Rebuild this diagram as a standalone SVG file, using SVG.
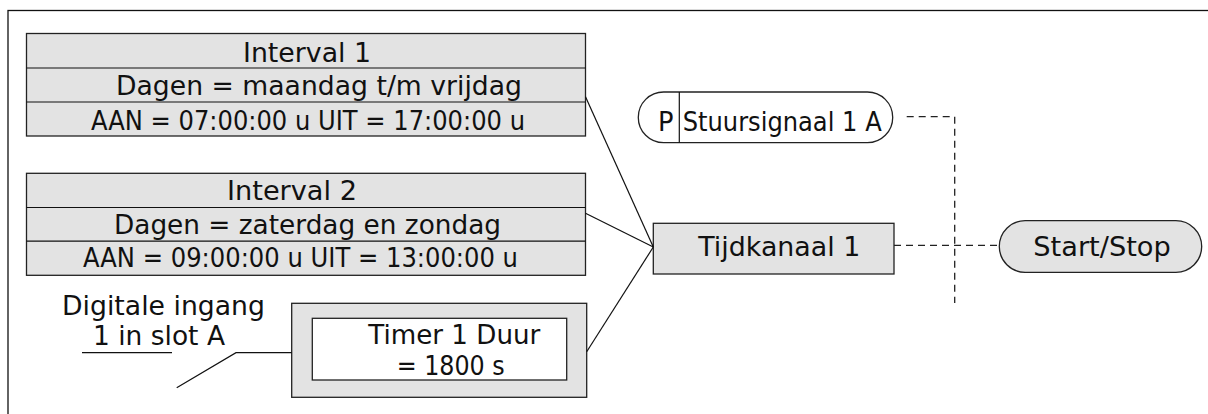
<svg xmlns="http://www.w3.org/2000/svg" width="1208" height="414" viewBox="0 0 1208 414">
<style>
text{font-family:"DejaVu Sans","Verdana",sans-serif;font-size:26px;fill:#111}
.box{fill:#e3e3e3;stroke:#222;stroke-width:1.3}
.white{fill:#fff;stroke:#222;stroke-width:1.3}
.ln{fill:none;stroke:#111;stroke-width:1.2}
.dash{fill:none;stroke:#222;stroke-width:1.3;stroke-dasharray:7 5}
</style>
<rect x="8" y="10.5" width="1230" height="420" fill="none" stroke="#111" stroke-width="1.3"/>
<g id="interval1">
<rect class="box" x="26.5" y="33.5" width="559" height="102.5"/>
<line class="ln" x1="26.5" y1="68" x2="585.5" y2="68"/>
<line class="ln" x1="26.5" y1="102" x2="585.5" y2="102"/>
<text x="243" y="62" textLength="128" lengthAdjust="spacingAndGlyphs">Interval 1</text>
<text x="116" y="95" textLength="406" lengthAdjust="spacingAndGlyphs">Dagen = maandag t/m vrijdag</text>
<text x="91" y="130" textLength="434" lengthAdjust="spacingAndGlyphs">AAN = 07:00:00 u UIT = 17:00:00 u</text>
</g>
<g id="interval2">
<rect class="box" x="26.5" y="173.3" width="559" height="102"/>
<line class="ln" x1="26.5" y1="207.5" x2="585.5" y2="207.5"/>
<line class="ln" x1="26.5" y1="241.2" x2="585.5" y2="241.2"/>
<text x="227" y="200" textLength="130" lengthAdjust="spacingAndGlyphs">Interval 2</text>
<text x="114" y="234" textLength="387" lengthAdjust="spacingAndGlyphs">Dagen = zaterdag en zondag</text>
<text x="83" y="267" textLength="435" lengthAdjust="spacingAndGlyphs">AAN = 09:00:00 u UIT = 13:00:00 u</text>
</g>
<g id="digital-input">
<text x="62" y="315" textLength="203" lengthAdjust="spacingAndGlyphs">Digitale ingang</text>
<text x="93" y="345" textLength="132" lengthAdjust="spacingAndGlyphs">1 in slot A</text>
<line class="ln" x1="82" y1="352.7" x2="172" y2="352.7"/>
</g>
<g id="timer">
<rect class="box" x="291.7" y="303.3" width="295" height="94"/>
<rect class="white" x="312.3" y="318.3" width="254.4" height="61.7"/>
<text x="368.3" y="344" textLength="172" lengthAdjust="spacingAndGlyphs">Timer 1 Duur</text>
<text x="396.7" y="375" textLength="108" lengthAdjust="spacingAndGlyphs">= 1800 s</text>
</g>
<g id="tijdkanaal">
<rect class="box" x="653.3" y="223.3" width="240.7" height="50.7"/>
<text x="698.3" y="256" textLength="162" lengthAdjust="spacingAndGlyphs">Tijdkanaal 1</text>
</g>
<g id="stuursignaal">
<rect class="white" x="638.3" y="92" width="254.4" height="50.7" rx="25.3" ry="25.3"/>
<line class="ln" x1="679.3" y1="92" x2="679.3" y2="142.7"/>
<text x="658" y="131" textLength="15.5" lengthAdjust="spacingAndGlyphs">P</text>
<text x="682.7" y="131" textLength="199" lengthAdjust="spacingAndGlyphs">Stuursignaal 1 A</text>
</g>
<g id="startstop">
<rect class="box" x="999.3" y="220.7" width="202.4" height="51.6" rx="25.8" ry="25.8"/>
<text x="1033.3" y="256" textLength="137.5" lengthAdjust="spacingAndGlyphs">Start/Stop</text>
</g>
<g id="connectors">
<line class="ln" x1="585.5" y1="96.7" x2="653.3" y2="247"/>
<line class="ln" x1="585.5" y1="213.3" x2="653.3" y2="247"/>
<line class="ln" x1="586.7" y1="351.7" x2="653.3" y2="247"/>
<polyline class="ln" points="176.7,387.7 236,352.7 291.7,352.7"/>
<polyline class="dash" points="906.7,116.7 954.7,116.7 954.7,303"/>
<line class="dash" x1="894" y1="245.3" x2="999.3" y2="245.3"/>
</g>
</svg>
